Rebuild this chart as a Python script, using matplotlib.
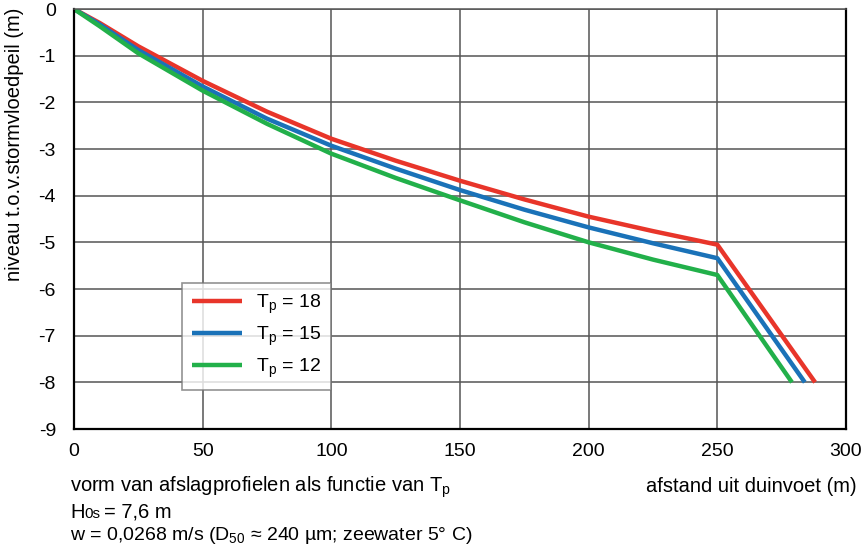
import matplotlib
matplotlib.use("Agg")
import matplotlib.pyplot as plt

plt.rcParams['font.family'] = ['Liberation Sans', 'DejaVu Sans']
plt.rcParams['mathtext.fontset'] = 'custom'
plt.rcParams['mathtext.rm'] = 'Liberation Sans'
plt.rcParams['mathtext.it'] = 'Liberation Sans'
plt.rcParams['axes.unicode_minus'] = False

# afstand uit duinvoet (m)
x_curve = [0, 10, 25, 50, 75, 100, 125, 150, 175, 200, 225, 250]
# niveau t.o.v. stormvloedpeil (m) per golfperiode
y_tp18 = [0, -0.30, -0.80, -1.54, -2.20, -2.78, -3.25, -3.68, -4.08, -4.45, -4.76, -5.05]
y_tp15 = [0, -0.33, -0.88, -1.66, -2.35, -2.93, -3.42, -3.88, -4.30, -4.68, -5.02, -5.34]
y_tp12 = [0, -0.37, -0.95, -1.75, -2.46, -3.10, -3.62, -4.10, -4.57, -5.00, -5.37, -5.70]
# eindpunt van het steile deel (op -8 m)
x_end = {'18': 288, '15': 284, '12': 279}
y_end = -8

colors = {'18': '#e8352a', '15': '#1a72b8', '12': '#22b04a'}
series = [('18', y_tp18), ('15', y_tp15), ('12', y_tp12)]

fig = plt.figure(figsize=(8.62, 5.48), dpi=100)
ax = fig.add_axes([74 / 862, 1 - 429 / 548, 772 / 862, 420 / 548])

for tp, ys in series:
    xs = x_curve + [x_end[tp]]
    yy = ys + [y_end]
    ax.plot(xs, yy, color=colors[tp], lw=3.2, solid_capstyle='butt',
            label=r'T$_\mathregular{p}$ = ' + tp)

ax.set_xlim(0, 300)
ax.set_ylim(-9, 0)
ax.set_xticks(range(0, 301, 50))
ax.set_yticks(range(-9, 1))
ax.grid(True, color='#555555', lw=1.1)
ax.tick_params(length=0, labelsize=14)
ax.tick_params(axis='x', pad=10)
ax.tick_params(axis='y', pad=13)
for s in ax.spines.values():
    s.set_color('black')
    s.set_linewidth(1.6)
ax.spines['top'].set_color('#555555')
ax.spines['top'].set_linewidth(1.1)

leg = ax.legend(loc='upper left', bbox_to_anchor=(108 / 772, 1 - 274 / 420),
                fontsize=14, frameon=True, fancybox=False, handlelength=2.6,
                handletextpad=0.7, borderpad=0.5, labelspacing=0.45,
                borderaxespad=0)
leg.get_frame().set_edgecolor('#777777')
leg.get_frame().set_linewidth(1.2)

fs = 14.5
fig.text(15 / 862, 1 - 8 / 548, 'niveau t.o.v.stormvloedpeil (m)', rotation=90,
         ha='center', va='top', fontsize=fs)
fig.text(70 / 862, 1 - 487 / 548, r'vorm van afslagprofielen als functie van T$_\mathregular{p}$',
         ha='left', va='center', fontsize=fs)
fig.text(857 / 862, 1 - 487 / 548, 'afstand uit duinvoet (m)',
         ha='right', va='center', fontsize=fs)
# H0s: "0s" kleiner op de basislijn
fig.text(70 / 862, 1 - 518 / 548, 'H', ha='left', va='baseline', fontsize=fs)
fig.text(84 / 862, 1 - 518 / 548, '0s', ha='left', va='baseline', fontsize=11)
fig.text(104 / 862, 1 - 518 / 548, '= 7,6 m', ha='left', va='baseline', fontsize=fs)
fig.text(70 / 862, 1 - 535 / 548,
         r'w = 0,0268 m/s (D$_\mathregular{50}$ ≈ 240 µm; zeewater 5° C)',
         ha='left', va='center', fontsize=14)

fig.savefig('out.png', dpi=100)
